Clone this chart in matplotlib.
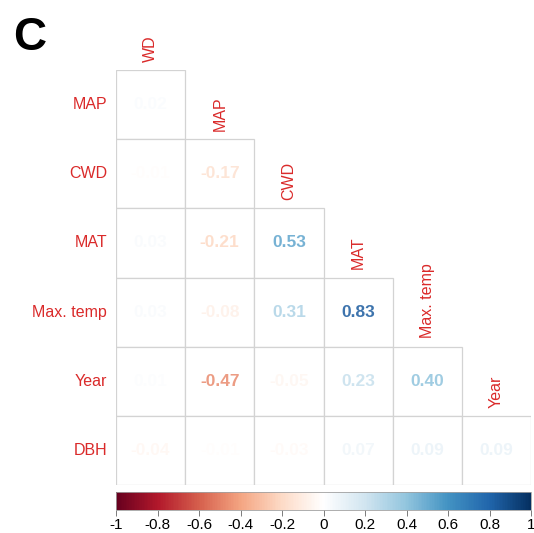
import numpy as np
import matplotlib
matplotlib.use("Agg")
import matplotlib.pyplot as plt
from matplotlib.colors import LinearSegmentedColormap
from matplotlib.patches import Rectangle
import matplotlib.colorbar as mcb
from matplotlib.colors import Normalize

plt.rcParams["font.family"] = ["Liberation Sans", "DejaVu Sans"]

row_labels = ["MAP", "CWD", "MAT", "Max. temp", "Year", "DBH"]
col_labels = ["WD", "MAP", "CWD", "MAT", "Max. temp", "Year"]
# lower-triangle correlation values, row i has i+1 entries
corr_rows = [
    [0.02],
    [-0.01, -0.17],
    [0.03, -0.21, 0.53],
    [0.03, -0.08, 0.31, 0.83],
    [0.01, -0.47, -0.05, 0.23, 0.40],
    [-0.04, -0.01, -0.03, 0.07, 0.09, 0.09],
]
cbar_ticks = [-1, -0.8, -0.6, -0.4, -0.2, 0, 0.2, 0.4, 0.6, 0.8, 1]

cols = ["#67001F", "#B2182B", "#D6604D", "#F4A582", "#FDDBC7", "#FFFFFF",
        "#D1E5F0", "#92C5DE", "#4393C3", "#2166AC", "#053061"]
cmap = LinearSegmentedColormap.from_list("corrRdBu", cols, N=256)
norm = Normalize(-1, 1)

W, H = 534, 533
fig = plt.figure(figsize=(W / 100, H / 100), dpi=100)

def fr(x0, y0, x1, y1):
    return [x0 / W, 1 - y1 / H, (x1 - x0) / W, (y1 - y0) / H]

ax = fig.add_axes(fr(116, 70, 531, 485))
ax.set_xlim(0, 6)
ax.set_ylim(6, 0)
ax.axis("off")

label_red = "#DA2A2A"
grid_col = "#D3D3D3"
n = len(row_labels)
for i in range(n):
    for j, v in enumerate(corr_rows[i]):
        ax.add_patch(Rectangle((j, i), 1, 1, facecolor="white", edgecolor=grid_col, lw=0.9))
        ax.text(j + 0.5, i + 0.5, f"{v:.2f}", ha="center", va="center",
                fontsize=12.5, fontweight="bold", color=cmap(norm(v)), alpha=0.85)
    ax.text(-0.13, i + 0.5, row_labels[i], ha="right", va="center",
            fontsize=11.5, color=label_red, clip_on=False)
for j in range(n):
    ax.text(j + 0.5, j - 0.12, col_labels[j], ha="center", va="bottom",
            rotation=90, fontsize=11.5, color=label_red, clip_on=False)

cax = fig.add_axes(fr(116, 492, 531, 510))
cb = mcb.ColorbarBase(cax, cmap=cmap, norm=norm, orientation="horizontal", ticks=cbar_ticks)
cb.outline.set_edgecolor("#A0A0A0")
cb.outline.set_linewidth(0.6)
cax.set_xticklabels([f"{t:g}" for t in cbar_ticks])
cax.tick_params(axis="x", labelsize=11, length=4, width=0.6, color="#666666", pad=2)

fig.text(13 / W, 1 - 38 / H, "C", fontsize=33, fontweight="bold", va="center", ha="left")

fig.savefig("out.png", dpi=100)
